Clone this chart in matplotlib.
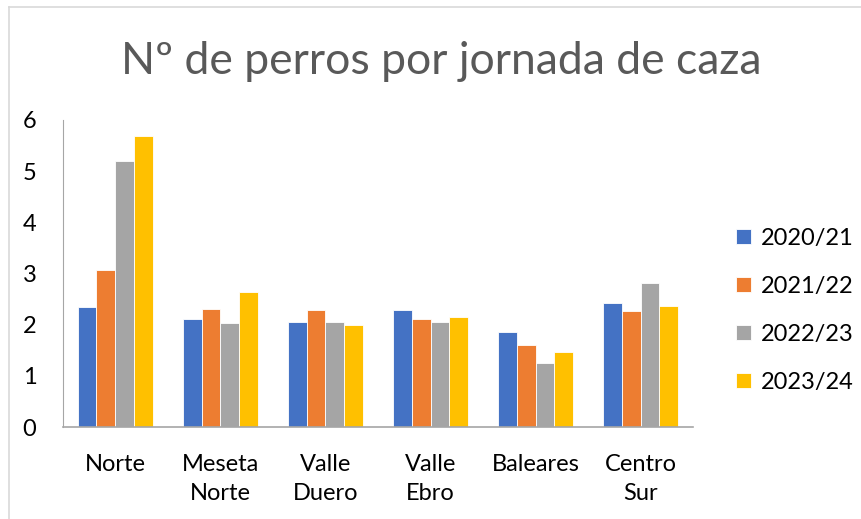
import numpy as np
import matplotlib
matplotlib.use('Agg')
import matplotlib.pyplot as plt
from matplotlib.lines import Line2D

plt.rcParams['font.family'] = ['Lato', 'DejaVu Sans']

# datos
regiones = ['Norte', 'Meseta\nNorte', 'Valle\nDuero', 'Valle\nEbro', 'Baleares', 'Centro\nSur']
temporadas = ['2020/21', '2021/22', '2022/23', '2023/24']
t_2020 = [2.35, 2.11, 2.05, 2.29, 1.85, 2.42]
t_2021 = [3.07, 2.30, 2.28, 2.12, 1.61, 2.27]
t_2022 = [5.20, 2.04, 2.06, 2.05, 1.25, 2.82]
t_2023 = [5.69, 2.64, 2.00, 2.15, 1.47, 2.37]
colores = ['#4472C4', '#ED7D31', '#A5A5A5', '#FFC000']

series = [t_2020, t_2021, t_2022, t_2023]

fig = plt.figure(figsize=(8.61, 5.19), dpi=100)
ax = fig.add_axes([0.073, 0.177, 0.732, 0.592])

x = np.arange(len(regiones))
w = 0.18
for i, vals in enumerate(series):
    ax.bar(x + (i - 1.5) * w, vals, width=w, color=colores[i], label=temporadas[i],
           edgecolor='white', linewidth=0.6)

ax.set_xlim(-0.5, len(regiones) - 0.5)
ax.set_ylim(0, 6)
ax.set_yticks(range(0, 7))
ax.set_xticks(x)
ax.set_xticklabels(regiones, fontsize=17, linespacing=1.52)
ax.tick_params(axis='both', length=0, labelsize=17, colors='black')
ax.tick_params(axis='y', pad=19)
ax.tick_params(axis='x', pad=19)
for s in ['top', 'right']:
    ax.spines[s].set_visible(False)
ax.spines['left'].set_color('#A6A6A6')
ax.spines['bottom'].set_color('#A6A6A6')
ax.spines['bottom'].set_linewidth(1.2)

fig.text(0.512, 0.882, 'Nº de perros por jornada de caza', ha='center', va='center',
         fontsize=32, color='#595959')

ax.legend(loc='center left', bbox_to_anchor=(1.035, 0.38), frameon=False, fontsize=17,
          handlelength=0.6, handleheight=0.6, labelspacing=1.15, handletextpad=0.45)

# borde del area del grafico
fig.add_artist(Line2D([0.0105, 1.0], [0.986, 0.986], color='#D9D9D9', lw=1.2))
fig.add_artist(Line2D([0.0105, 0.0105], [0.0, 0.986], color='#D9D9D9', lw=1.2))

fig.savefig('out.png', dpi=100)
